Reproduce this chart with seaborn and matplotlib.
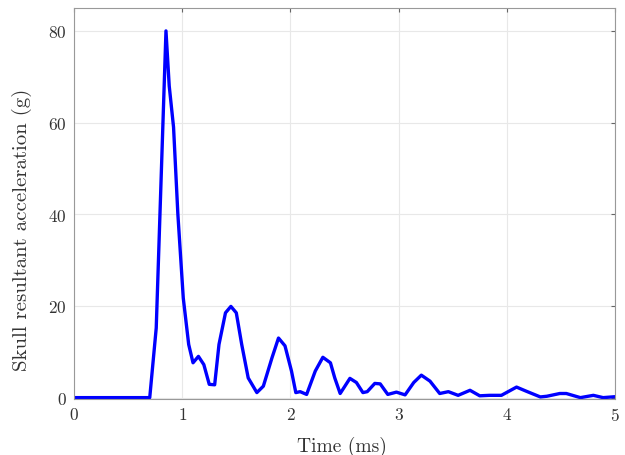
import pandas as pd
import numpy as np
import seaborn as sns
import matplotlib.pyplot as plt

# 시간(ms) / 가속도(g) 값 - 그림에서 읽은 값
time_ms = [0.00, 0.70, 0.76, 0.85, 0.88, 0.92, 0.96, 1.01, 1.06, 1.10, 1.15, 1.20,
           1.25, 1.30, 1.34, 1.40, 1.45, 1.50, 1.55, 1.61, 1.69, 1.75, 1.83, 1.89,
           1.95, 2.01, 2.05, 2.09, 2.15, 2.23, 2.30, 2.37, 2.41, 2.46, 2.55, 2.61,
           2.67, 2.71, 2.78, 2.83, 2.90, 2.98, 3.06, 3.14, 3.21, 3.29, 3.38, 3.46,
           3.55, 3.66, 3.75, 3.84, 3.95, 4.09, 4.18, 4.31, 4.37, 4.49, 4.55, 4.68,
           4.80, 4.89, 5.00]
accel_g = [0.0, 0.0, 15.2, 80.0, 68.0, 59.0, 40.0, 21.7, 11.6, 7.6, 9.0, 7.2,
           2.9, 2.8, 11.6, 18.5, 19.9, 18.5, 11.6, 4.3, 1.1, 2.5, 8.7, 13.0,
           11.3, 5.8, 1.1, 1.3, 0.7, 5.8, 8.8, 7.6, 4.3, 0.9, 4.2, 3.3,
           1.1, 1.3, 3.1, 3.0, 0.7, 1.2, 0.6, 3.3, 4.9, 3.6, 0.9, 1.3,
           0.5, 1.6, 0.4, 0.5, 0.5, 2.3, 1.4, 0.15, 0.3, 0.9, 0.9, 0.0,
           0.5, 0.0, 0.2]

df = pd.DataFrame({'time': time_ms, 'accel': accel_g})

sns.set_style('whitegrid')
plt.rcParams['font.family'] = ['cmr10', 'DejaVu Serif']
plt.rcParams['axes.formatter.use_mathtext'] = True

fig = plt.figure(figsize=(6.25, 4.56), dpi=100)
ax = fig.add_axes([0.1184, 0.1228, 0.8656, 0.8575])

sns.lineplot(data=df, x='time', y='accel', color='#0000ff', linewidth=2.4, ax=ax)

ax.set_xlim(0, 5)
ax.set_ylim(-0.3, 85)
ax.set_xticks([0, 1, 2, 3, 4, 5])
ax.set_yticks([0, 20, 40, 60, 80])
ax.set_xlabel('Time (ms)', fontsize=14, color='#333333')
ax.set_ylabel('Skull resultant acceleration (g)', fontsize=15, color='#333333')
ax.xaxis.set_label_coords(0.495, -0.094)
ax.yaxis.set_label_coords(-0.078, 0.435)
ax.tick_params(axis='both', labelsize=12.5, labelcolor='#333333', direction='in',
               length=3, top=True, right=True, color='#666666', pad=5)
ax.grid(color='#e8e8e8', linewidth=0.8)
for s in ax.spines.values():
    s.set_color('#999999')
    s.set_linewidth(0.8)

plt.savefig('out.png', dpi=100)
plt.close()
